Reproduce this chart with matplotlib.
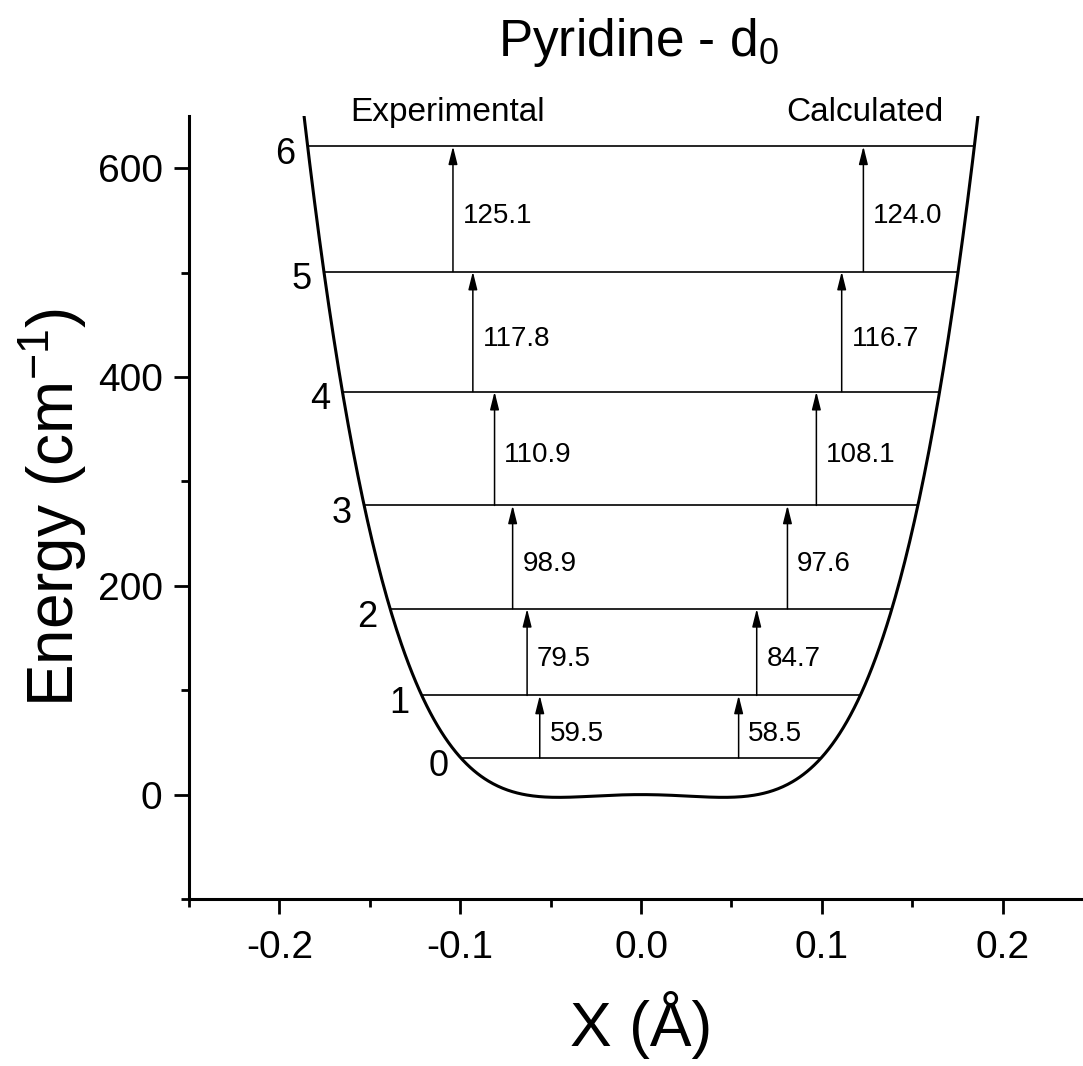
# Pyridine - d0 : 势能曲线与振动能级

import numpy as np
import matplotlib.pyplot as plt
from matplotlib.ticker import MultipleLocator, FormatStrFormatter

plt.rcParams['font.family'] = ['Liberation Sans', 'DejaVu Sans']
plt.rcParams['mathtext.fontset'] = 'custom'
plt.rcParams['mathtext.rm'] = 'Liberation Sans'
plt.rcParams['mathtext.it'] = 'Liberation Sans:italic'
plt.rcParams['axes.unicode_minus'] = False

# 1. data
# potential V(x) = a4*x^4 + a2*x^2  (cm-1, x in Angstrom)
a4 = 612000.0
a2 = -2540.0

levels = [0, 1, 2, 3, 4, 5, 6]
level_energy = [35, 95, 178, 277, 386, 501, 621]

exp_gap = ['59.5', '79.5', '98.9', '110.9', '117.8', '125.1']
calc_gap = ['58.5', '84.7', '97.6', '108.1', '116.7', '124.0']
exp_x = [-0.056, -0.063, -0.071, -0.081, -0.093, -0.104]
calc_x = [0.054, 0.064, 0.081, 0.097, 0.111, 0.123]


def V(x):
    return a4 * x**4 + a2 * x**2


# 2. figure
fig = plt.figure(figsize=(10.83, 10.66), dpi=100)
ax = fig.add_axes([189 / 1083, 1 - 899 / 1066, 904 / 1083, 783 / 1066])

xs = np.linspace(-0.2, 0.2, 600)
ax.plot(xs, V(xs), color='k', lw=2.2)

# levels
for n, E in zip(levels, level_energy):
    u = (-a2 + np.sqrt(a2**2 + 4 * a4 * E)) / (2 * a4)
    xr = np.sqrt(u)
    ax.plot([-xr, xr], [E, E], color='k', lw=1.2)
    ax.annotate(str(n), xy=(-xr, E), xytext=(-9, -6), textcoords='offset points',
                ha='right', va='center', fontsize=26)

# arrows + labels
arrow = dict(arrowstyle='-|>,head_length=0.6,head_width=0.15', color='k',
             lw=1.1, shrinkA=0, shrinkB=0, mutation_scale=18)
for i in range(len(exp_gap)):
    E0, E1 = level_energy[i], level_energy[i + 1]
    for x, lbl in ((exp_x[i], exp_gap[i]), (calc_x[i], calc_gap[i])):
        ax.annotate('', xy=(x, E1), xytext=(x, E0), arrowprops=arrow)
        ax.annotate(lbl, xy=(x, (E0 + E1) / 2), xytext=(7, -5),
                    textcoords='offset points', ha='left', va='center', fontsize=20)

ax.text(-0.107, 645, 'Experimental', ha='center', va='baseline', fontsize=24)
ax.text(0.124, 645, 'Calculated', ha='center', va='baseline', fontsize=24)
fig.text(0.59, 1 - 56 / 1066, 'Pyridine - d$_0$', ha='center', va='baseline', fontsize=37)

# 3. axes
ax.set_xlim(-0.25, 0.25)
ax.set_ylim(-100, 650)
ax.xaxis.set_major_locator(MultipleLocator(0.1))
ax.xaxis.set_minor_locator(MultipleLocator(0.05))
ax.xaxis.set_major_formatter(FormatStrFormatter('%.1f'))
ax.yaxis.set_major_locator(MultipleLocator(200))
ax.yaxis.set_minor_locator(MultipleLocator(100))
ax.spines['top'].set_visible(False)
ax.spines['right'].set_visible(False)
for s in ('left', 'bottom'):
    ax.spines[s].set_linewidth(2.2)
ax.tick_params(which='major', direction='out', length=11, width=2, labelsize=28, pad=8)
ax.tick_params(axis='x', which='major', pad=11)
ax.tick_params(which='minor', direction='out', length=6, width=2)

ax.set_xlabel('X (Å)', fontsize=45, labelpad=18)
ax.set_ylabel('Energy (cm$^{-1}$)', fontsize=46, labelpad=6)

fig.savefig('out.png', dpi=100)
